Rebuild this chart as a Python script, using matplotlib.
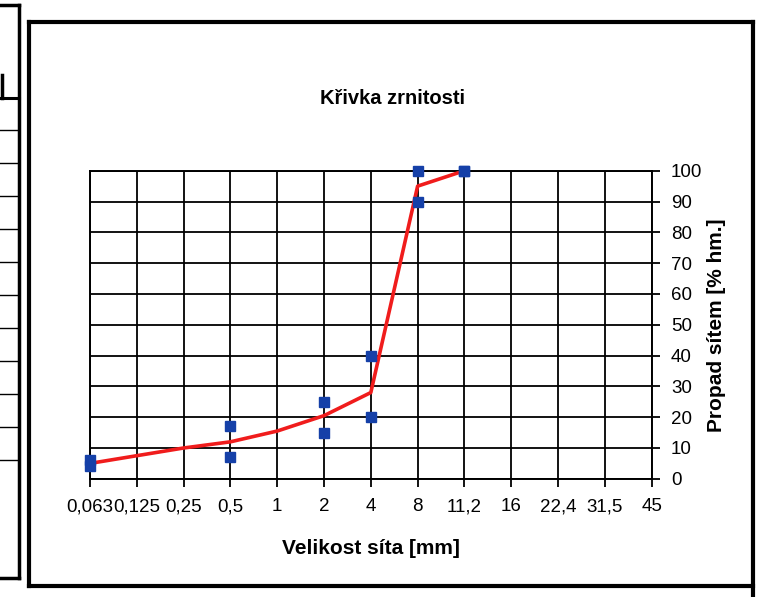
import numpy as np
import matplotlib.pyplot as plt
from matplotlib.lines import Line2D

plt.rcParams['font.family'] = ['Liberation Sans', 'DejaVu Sans']

# velikosti sit (kategorie na ose x)
sizes = ['0,063', '0,125', '0,25', '0,5', '1', '2', '4', '8', '11,2', '16', '22,4', '31,5', '45']

# krivka zrnitosti (prumer)
curve_idx = [0, 1, 2, 3, 4, 5, 6, 7, 8]
curve_val = [5, 7.5, 10, 12, 15.5, 20.5, 28, 95, 100]

# jednotlive vzorky
sample_idx = [0, 3, 5, 6, 7, 8]
sample_a = [6, 17, 25, 40, 100, 100]
sample_b = [4, 7, 15, 20, 90, 100]

fig = plt.figure(figsize=(7.63, 5.97), dpi=100)
ax = fig.add_axes([0.118, 0.198, 0.736, 0.516])

ax.plot(curve_idx, curve_val, color='#f01c1c', lw=2.6, zorder=3)
ax.plot(sample_idx, sample_a, 's', color='#1540a8', markersize=6.8, lw=0, zorder=4, clip_on=False)
ax.plot(sample_idx, sample_b, 's', color='#1540a8', markersize=6.8, lw=0, zorder=4, clip_on=False)

ax.set_xlim(0, len(sizes) - 1)
ax.set_ylim(0, 100)
ax.set_xticks(np.arange(len(sizes)))
ax.set_xticklabels(sizes)
ax.set_yticks(np.arange(0, 101, 10))
ax.grid(True, color='black', lw=1.3)
ax.set_axisbelow(True)
for s in ax.spines.values():
    s.set_linewidth(1.4)

ax.yaxis.tick_right()
ax.yaxis.set_label_position('right')
ax.tick_params(axis='both', direction='out', length=6, width=1.3, labelsize=13.5, colors='black')
ax.tick_params(axis='x', pad=8)
ax.tick_params(axis='y', pad=8)

ax.set_xlabel('Velikost síta [mm]', fontsize=15, fontweight='bold', labelpad=17)
ax.set_ylabel('Propad sítem [% hm.]', fontsize=15, fontweight='bold', labelpad=3)
fig.text(0.515, 0.835, 'Křivka zrnitosti', ha='center', va='center', fontsize=14.5, fontweight='bold')

# ramecek grafu
W, H = 763.0, 597.0
def px_line(x0, y0, x1, y1, lw):
    fig.add_artist(Line2D([x0 / W, x1 / W], [1 - y0 / H, 1 - y1 / H], color='black', lw=lw,
                          solid_capstyle='projecting'))

px_line(29, 22, 753, 22, 3)
px_line(29, 22, 29, 586, 3)
px_line(29, 586, 753, 586, 3)
px_line(753, 22, 753, 597, 3)

# cast tabulky vlevo
px_line(0, 5, 19, 5, 2.5)
px_line(19, 5, 19, 578, 2.5)
px_line(0, 578, 19, 578, 2.5)
px_line(2, 75, 2, 98, 2.5)
px_line(0, 98, 19, 98, 2.2)
for y in np.linspace(130, 460, 11):
    px_line(0, y, 19, y, 1.0)

fig.savefig('out.png', dpi=100)
